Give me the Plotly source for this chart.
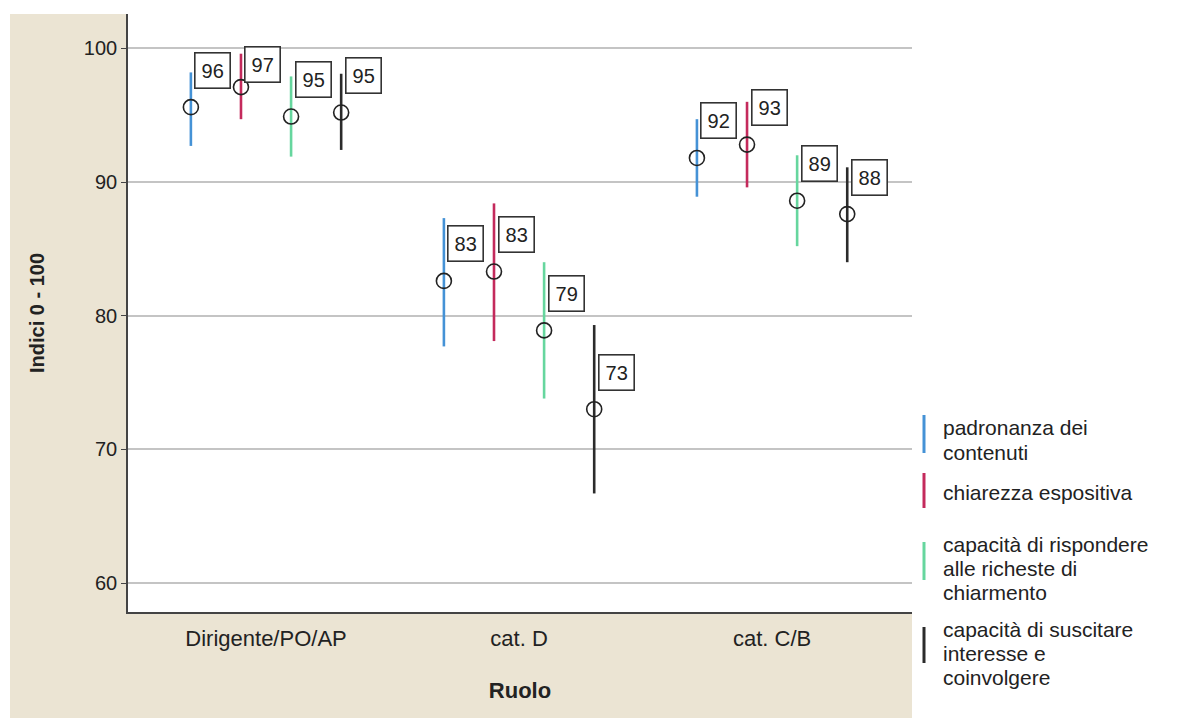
import plotly.graph_objects as go

# Groups on the x axis
categories = ["Dirigente/PO/AP", "cat. D", "cat. C/B"]

# Indicators (one series each)
series_names = [
    "padronanza dei contenuti",
    "chiarezza espositiva",
    "capacità di rispondere alle richeste di chiarmento",
    "capacità di suscitare interesse e coinvolgere",
]
legend_lines = [
    ["padronanza dei", "contenuti"],
    ["chiarezza espositiva"],
    ["capacità di rispondere", "alle richeste di", "chiarmento"],
    ["capacità di suscitare", "interesse e", "coinvolgere"],
]

# Mean index (0-100) per group
mean_padronanza = [95.6, 82.6, 91.8]
mean_chiarezza = [97.1, 83.3, 92.8]
mean_rispondere = [94.9, 78.9, 88.6]
mean_suscitare = [95.2, 73.0, 87.6]

# Confidence interval bounds
low_padronanza = [92.7, 77.7, 88.9]
high_padronanza = [98.2, 87.3, 94.7]
low_chiarezza = [94.7, 78.1, 89.6]
high_chiarezza = [99.6, 88.4, 96.0]
low_rispondere = [91.9, 73.8, 85.2]
high_rispondere = [97.9, 84.0, 92.0]
low_suscitare = [92.4, 66.7, 84.0]
high_suscitare = [98.1, 79.3, 91.1]

y_tick_values = [60, 70, 80, 90, 100]

means = [mean_padronanza, mean_chiarezza, mean_rispondere, mean_suscitare]
lows = [low_padronanza, low_chiarezza, low_rispondere, low_suscitare]
highs = [high_padronanza, high_chiarezza, high_rispondere, high_suscitare]

colors = ["#4592d6", "#c42a5c", "#66d69e", "#2b2b2b"]
offsets = [-0.297, -0.099, 0.099, 0.297]

W, H = 1199, 718
ML, MR, MT, MB = 128, 287, 14, 106
PW, PH = W - ML - MR, H - MT - MB


def px_x(px):
    return (px - ML) / PW


def px_y(py):
    return (H - MB - py) / PH


FONT = "Liberation Sans, Arial, sans-serif"

fig = go.Figure()

annotations = []
for i, name in enumerate(series_names):
    xs = [g + offsets[i] for g in range(len(categories))]
    m = means[i]
    fig.add_trace(go.Scatter(
        x=xs, y=m, mode="markers", name=name, showlegend=False,
        marker=dict(symbol="circle-open", size=15, color="#222222",
                    line=dict(width=1.6)),
        error_y=dict(type="data", symmetric=False,
                     array=[h - v for h, v in zip(highs[i], m)],
                     arrayminus=[v - lo for v, lo in zip(m, lows[i])],
                     color=colors[i], thickness=2.6, width=0),
    ))
    for g, (x, v) in enumerate(zip(xs, m)):
        yshift = 23 if (i == 1 and g == 0) else 37
        annotations.append(dict(
            x=x, y=v, xref="x", yref="y", text=f"{round(v)}",
            showarrow=False, xshift=22, yshift=yshift,
            font=dict(family=FONT, size=20, color="#222222"),
            bgcolor="white", bordercolor="#333333", borderwidth=1.6,
            borderpad=6,
        ))

# Legend drawn by hand: coloured bar plus tightly spaced text lines
legend_bar_spans = [(415, 453), (473, 508), (542, 580), (627, 663)]
legend_line_y = [[427, 452], [492], [544, 568, 592], [629, 653, 677]]
shapes = [
    # beige frame around the plotting area
    dict(type="rect", xref="paper", yref="paper", layer="below",
         x0=px_x(10), x1=px_x(912), y0=px_y(718), y1=px_y(14),
         fillcolor="#ebe4d3", line=dict(width=0)),
    dict(type="rect", xref="paper", yref="paper", layer="below",
         x0=0, x1=1, y0=0, y1=1, fillcolor="white", line=dict(width=0)),
]
for i, (y0, y1) in enumerate(legend_bar_spans):
    shapes.append(dict(type="line", xref="paper", yref="paper",
                       x0=px_x(924), x1=px_x(924), y0=px_y(y1), y1=px_y(y0),
                       line=dict(color=colors[i], width=3)))
    for text, ly in zip(legend_lines[i], legend_line_y[i]):
        annotations.append(dict(
            x=px_x(941), y=px_y(ly), xref="paper", yref="paper",
            text=text, showarrow=False, xanchor="left", yanchor="middle",
            font=dict(family=FONT, size=21, color="#222222"),
        ))

fig.update_layout(
    width=W, height=H,
    margin=dict(l=ML, r=MR, t=MT, b=MB, pad=0),
    paper_bgcolor="white", plot_bgcolor="white",
    shapes=shapes, annotations=annotations,
    showlegend=False,
    xaxis=dict(
        range=[-0.5455, 2.553], tickmode="array",
        tickvals=list(range(len(categories))), ticktext=categories,
        showgrid=False, zeroline=False,
        showline=True, linecolor="#444444", linewidth=1.6,
        ticks="", ticklabelstandoff=6,
        tickfont=dict(family=FONT, size=22, color="#222222"),
        title=dict(text="<b>Ruolo</b>", standoff=32,
                   font=dict(family=FONT, size=22, color="#222222")),
    ),
    yaxis=dict(
        range=[57.83, 102.57], tickmode="array", tickvals=y_tick_values,
        showgrid=True, gridcolor="#c4c4c4", gridwidth=1.8,
        zeroline=False, showline=True, linecolor="#444444", linewidth=1.6,
        ticks="outside", ticklen=5, tickcolor="#444444",
        tickfont=dict(family=FONT, size=20, color="#222222"),
        title=dict(text="<b>Indici 0 - 100</b>", standoff=34,
                   font=dict(family=FONT, size=20, color="#222222")),
    ),
)

fig.write_html("out.html")
